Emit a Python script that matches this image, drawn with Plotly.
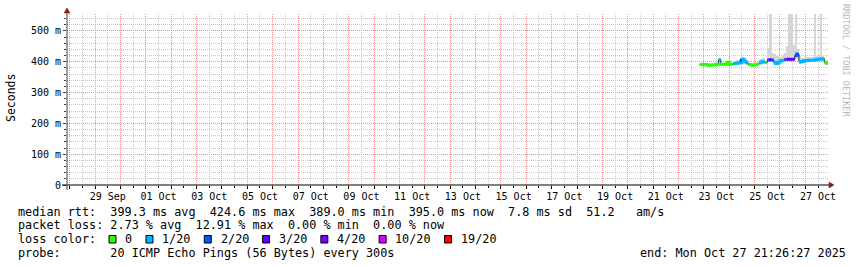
import plotly.graph_objects as go
import pandas as pd
import numpy as np

# ---------------- data ----------------
END = pd.Timestamp("2025-10-27 21:26:27")
START = END - pd.Timedelta(days=30)

series_start = "2025-10-22 20:00"
step_hours = 2

median_ms = [391, 391, 391, 390, 389, 389, 390, 390, 392, 407,
             392, 392, 392, 398, 392, 392, 394, 395, 397, 404,
             408, 402, 397, 391, 390, 389, 390, 392, 397, 399,
             400, 397, 406, 407, 406, 398, 394, 398, 403, 404,
             407, 408, 408, 408, 408, 420, 425, 399, 401, 403,
             404, 404, 405, 405, 406, 407, 408, 409, 410, 398, 395]
loss_20 = [0, 0, 0, 0, 0, 0, 0, 0, 0, 1,
           0, 0, 0, 0, 0, 0, 1, 1, 1, 2,
           1, 1, 1, 0, 0, 0, 0, 0, 1, 1,
           1, 0, 2, 3, 2, 1, 1, 1, 1, 1,
           2, 3, 3, 3, 3, 2, 2, 1, 1, 1,
           1, 1, 1, 1, 1, 1, 1, 1, 1, 0, 0]
smoke_max_ms = [394, 394, 394, 393, 392, 392, 393, 393, 395, 410,
                395, 395, 395, 401, 395, 395, 402, 405, 404, 412,
                414, 408, 402, 394, 393, 392, 393, 395, 410, 412,
                413, 404, 445, 555, 430, 425, 420, 418, 415, 420,
                430, 450, 555, 555, 455, 555, 440, 420, 412, 413,
                414, 414, 415, 415, 555, 420, 425, 555, 420, 402, 398]
smoke_min_ms = [388, 388, 388, 387, 386, 386, 387, 387, 389, 400,
                389, 389, 389, 393, 389, 389, 389, 390, 391, 397,
                400, 395, 391, 388, 387, 386, 387, 389, 391, 393,
                394, 392, 398, 399, 398, 391, 388, 392, 397, 398,
                400, 401, 401, 401, 401, 408, 410, 393, 395, 397,
                398, 398, 399, 399, 400, 401, 402, 403, 404, 393, 391]

loss_levels = [0, 1, 2, 3, 4, 10, 19]
loss_labels = ["0", "1/20", "2/20", "3/20", "4/20", "10/20", "19/20"]
loss_colors = ["#26ff00", "#00b8ff", "#0059ff", "#5e00ff", "#7e00ff", "#dd00ff", "#ff0000"]

y_tick_vals = [0, 0.1, 0.2, 0.3, 0.4, 0.5]
y_tick_text = ["0", "100 m", "200 m", "300 m", "400 m", "500 m"]
x_label_days = ["2025-09-29", "2025-10-01", "2025-10-03", "2025-10-05", "2025-10-07",
                "2025-10-09", "2025-10-11", "2025-10-13", "2025-10-15", "2025-10-17",
                "2025-10-19", "2025-10-21", "2025-10-23", "2025-10-25", "2025-10-27"]
x_label_text = ["29 Sep", "01 Oct", "03 Oct", "05 Oct", "07 Oct", "09 Oct", "11 Oct",
                "13 Oct", "15 Oct", "17 Oct", "19 Oct", "21 Oct", "23 Oct", "25 Oct", "27 Oct"]

legend_lines = [
    "median rtt:  399.3 ms avg  424.6 ms max  389.0 ms min  395.0 ms now  7.8 ms sd  51.2   am/s",
    "packet loss: 2.73 % avg  12.91 % max  0.00 % min  0.00 % now",
    "loss color:",
    "probe:       20 ICMP Echo Pings (56 Bytes) every 300s",
]
end_text = "end: Mon Oct 27 21:26:27 2025"

# ---------------- geometry ----------------
W, H = 857, 267
L, R, T, B = 67, 29, 14, 82
PW, PH = W - L - R, H - T - B
Y_MAX = 0.555
MONO = "DejaVu Sans Mono"

def px(x):
    return (x - L) / PW

def py(y):
    return (H - B - y) / PH

n = len(median_ms)
times = pd.date_range(series_start, periods=n, freq=f"{step_hours}h")
med = np.array(median_ms) / 1000.0
smax = np.array(smoke_max_ms) / 1000.0
smin = np.array(smoke_min_ms) / 1000.0
loss = np.array(loss_20)

fig = go.Figure()

# anchor trace for the main (day) axis so its grid is drawn
fig.add_trace(go.Scatter(x=[START, END], y=[-1, -1], mode="lines",
                         line=dict(width=0, color="white"), hoverinfo="skip",
                         showlegend=False, xaxis="x"))

# smoke
fig.add_trace(go.Bar(
    x=times, base=smin, y=smax - smin, width=step_hours * 3600 * 1000, offset=0,
    marker=dict(color="#d6d6d6", line=dict(width=0)), hoverinfo="skip", showlegend=False,
    xaxis="x2"))

ext_times = list(times) + [times[-1] + pd.Timedelta(hours=step_hours)]

# dark median line
fig.add_trace(go.Scatter(
    x=ext_times, y=list(med) + [med[-1]],
    mode="lines", line=dict(color="#202020", width=1, shape="hv"),
    hoverinfo="skip", showlegend=False, xaxis="x2"))

# colored median band by loss level
def level_of(v):
    idx = 0
    for k, lv in enumerate(loss_levels):
        if v >= lv:
            idx = k
    return idx

lvl = np.array([level_of(v) for v in loss])
for k, col in enumerate(loss_colors):
    ys = [None] * (n + 1)
    for i in range(n):
        if lvl[i] == k:
            ys[i] = med[i]
            if ys[i + 1] is None:
                ys[i + 1] = med[i]
    if all(v is None for v in ys):
        continue
    fig.add_trace(go.Scatter(
        x=ext_times, y=ys, mode="lines", connectgaps=False,
        line=dict(color=col, width=3, shape="hv"), hoverinfo="skip", showlegend=False,
        xaxis="x2"))

grid_major = "#ee9090"
grid_minor = "#c8c8c8"
GW = 1.05

# every midnight gets a major (red) grid line
day_vals = pd.date_range("2025-09-28 00:00", "2025-10-27 00:00", freq="D")
# every noon gets a minor grid line; every second one carries a label
noon_vals = pd.date_range("2025-09-28 12:00", "2025-10-27 12:00", freq="D")
label_map = dict(zip(x_label_days, x_label_text))
noon_text = [label_map.get(d.strftime("%Y-%m-%d"), "") for d in noon_vals]

fig.update_layout(
    width=W, height=H, margin=dict(l=L, r=R, t=T, b=B),
    paper_bgcolor="white", plot_bgcolor="white",
    barmode="overlay", bargap=0, showlegend=False,
    font=dict(family=MONO, size=10, color="black"),
    xaxis=dict(
        type="date", range=[START, END], showticklabels=False,
        tickmode="array", tickvals=day_vals, ticktext=[""] * len(day_vals),
        showgrid=True, gridcolor=grid_major, griddash="1px,1px", gridwidth=GW,
        ticks="outside", ticklen=3, tickcolor="black",
        zeroline=False, showline=False, fixedrange=True,
    ),
    xaxis2=dict(
        type="date", range=[START, END], overlaying="x", anchor="y", side="bottom",
        tickmode="array", tickvals=noon_vals, ticktext=noon_text,
        showgrid=True, gridcolor=grid_minor, griddash="1px,1px", gridwidth=GW,
        ticks="outside", ticklen=2, tickcolor="black",
        tickfont=dict(family=MONO, size=10, color="black"), zeroline=False, showline=False,
        fixedrange=True,
    ),
    yaxis=dict(
        range=[0, Y_MAX], tickmode="array", tickvals=y_tick_vals, ticktext=y_tick_text,
        showgrid=True, gridcolor=grid_major, griddash="1px,1px", gridwidth=GW,
        ticks="outside", ticklen=3, tickcolor="#404040",
        minor=dict(dtick=0.02, tick0=0, showgrid=True, gridcolor=grid_minor,
                   griddash="1px,1px", gridwidth=GW, ticks="outside", ticklen=2,
                   tickcolor="#404040"),
        tickfont=dict(family=MONO, size=10, color="black"),
        zeroline=False, showline=False, fixedrange=True,
    ),
)

shapes = []
# axis lines
shapes.append(dict(type="line", xref="paper", yref="paper", x0=px(62), x1=px(831),
                   y0=py(185), y1=py(185), line=dict(color="black", width=1)))
shapes.append(dict(type="line", xref="paper", yref="paper", x0=px(67), x1=px(67),
                   y0=py(190), y1=py(12), line=dict(color="#404040", width=1)))
# arrows
def path(pts):
    return "M " + " L ".join(f"{px(a)},{py(b)}" for a, b in pts) + " Z"
shapes.append(dict(type="path", xref="paper", yref="paper",
                   path=path([(829, 182), (834, 185), (829, 188)]),
                   fillcolor="#8b1a1a", line=dict(color="#8b1a1a", width=0.5)))
shapes.append(dict(type="path", xref="paper", yref="paper",
                   path=path([(64, 13), (67, 8), (70, 13)]),
                   fillcolor="#8b1a1a", line=dict(color="#8b1a1a", width=0.5)))

ann = []
LEG_SIZE = 11.8
CHAR_W = 7.096
line_y = [211.5, 225, 239.3, 252.7]
for txt, yy in zip(legend_lines, line_y):
    ann.append(dict(text=txt.replace(" ", "&nbsp;"), xref="paper", yref="paper",
                    x=px(16), y=py(yy), xanchor="left", yanchor="middle", showarrow=False,
                    font=dict(family=MONO, size=LEG_SIZE, color="black")))
# loss colour swatches
bx = 109
for lab, col in zip(loss_labels, loss_colors):
    shapes.append(dict(type="rect", xref="paper", yref="paper",
                       x0=px(bx), x1=px(bx + 7), y0=py(243), y1=py(235.5),
                       fillcolor=col, line=dict(color="black", width=1)))
    tx = bx + 14.3
    ann.append(dict(text=lab, xref="paper", yref="paper", x=px(tx), y=py(line_y[2]),
                    xanchor="left", yanchor="middle", showarrow=False,
                    font=dict(family=MONO, size=LEG_SIZE, color="black")))
    bx = tx + len(lab) * CHAR_W + 15.6

ann.append(dict(text=end_text.replace(" ", "&nbsp;"), xref="paper", yref="paper",
                x=px(638), y=py(line_y[3]), xanchor="left", yanchor="middle", showarrow=False,
                font=dict(family=MONO, size=LEG_SIZE, color="black")))
ann.append(dict(text="Seconds", xref="paper", yref="paper", x=px(11), y=py(98),
                xanchor="center", yanchor="middle", textangle=-90, showarrow=False,
                font=dict(family=MONO, size=11.5, color="black")))
ann.append(dict(text="RRDTOOL / TOBI OETIKER", xref="paper", yref="paper", x=px(846),
                y=py(60), xanchor="center", yanchor="middle", textangle=90, showarrow=False,
                font=dict(family=MONO, size=8.5, color="#b8b8b8")))

fig.update_layout(shapes=shapes, annotations=ann)
fig.write_html("out.html")
